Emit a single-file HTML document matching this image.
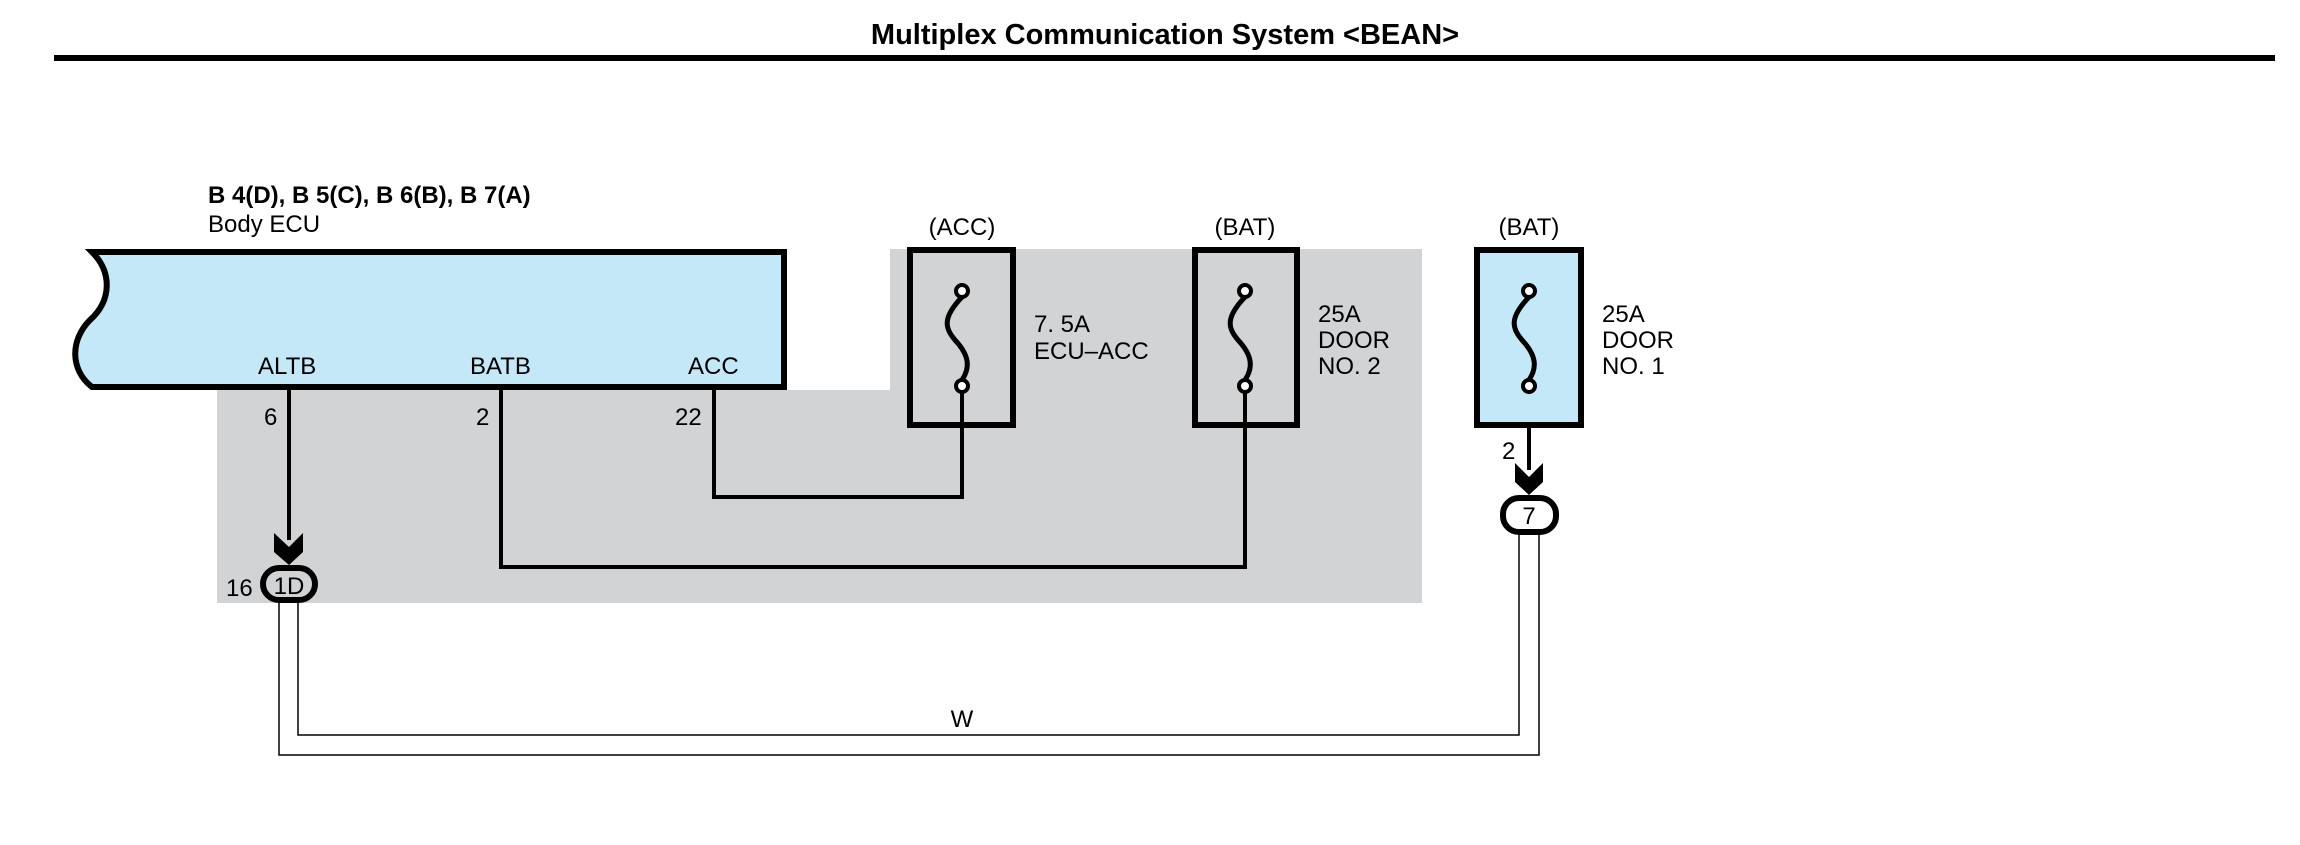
<!DOCTYPE html>
<html><head><meta charset="utf-8"><style>
html,body{margin:0;padding:0;background:#fff;}
svg{display:block;font-family:"Liberation Sans",Arial,sans-serif;}
</style></head><body>
<svg width="2300" height="845" viewBox="0 0 2300 845" xmlns="http://www.w3.org/2000/svg">
<text x="1165" y="44" font-size="29" font-weight="bold" text-anchor="middle">Multiplex Communication System &lt;BEAN&gt;</text>
<rect x="54" y="55" width="2221" height="6" fill="#000"/>
<!-- gray area -->
<path d="M217,390 H890 V249 H1422 V603 H217 Z" fill="#d1d3d4"/>
<!-- ECU -->
<text x="208" y="203" font-size="24" font-weight="bold">B 4(D), B 5(C), B 6(B), B 7(A)</text>
<text x="208" y="232" font-size="24">Body ECU</text>
<path d="M92,252 H784 V387 H92 C70,370 70,340 90,320 C112,300 112,272 92,252 Z" fill="#c5e8f8" stroke="#000" stroke-width="6"/>
<text x="258" y="374" font-size="24">ALTB</text>
<text x="470" y="374" font-size="24">BATB</text>
<text x="688" y="374" font-size="24">ACC</text>
<text x="264" y="425" font-size="24">6</text>
<text x="476" y="425" font-size="24">2</text>
<text x="675" y="425" font-size="24">22</text>
<g stroke="#000" stroke-width="4" fill="none">
<path d="M289,390 V540"/>
<path d="M501,390 V567 H1245 V386"/>
<path d="M714,390 V497 H962 V386"/>
<path d="M1529,386 V470"/>
</g>
<!-- arrows -->
<polygon points="274,533 289,547 303,533 303,552 289,565 274,552" fill="#000"/>
<polygon points="1515,463 1529,477 1543,463 1543,482 1529,495 1515,482" fill="#000"/>
<!-- connectors -->
<rect x="263" y="568" width="52" height="32" rx="16" fill="#d1d3d4" stroke="#000" stroke-width="6"/>
<text x="289" y="594" font-size="24" text-anchor="middle">1D</text>
<text x="226" y="596" font-size="24">16</text>
<rect x="1503" y="498" width="53" height="34" rx="16" fill="#fff" stroke="#000" stroke-width="6"/>
<text x="1529" y="524" font-size="24" text-anchor="middle">7</text>
<text x="1502" y="459" font-size="24">2</text>
<!-- W wires -->
<g stroke="#000" stroke-width="1.5" fill="none">
<path d="M279,603 V755 H1539 V534"/>
<path d="M298,603 V735 H1519 V534"/>
</g>
<text x="962" y="727" font-size="24" text-anchor="middle">W</text>
<!-- fuses -->
<g stroke="#000" stroke-width="6">
<rect x="910" y="250" width="103" height="175" fill="none"/>
<rect x="1195" y="250" width="102" height="175" fill="none"/>
<rect x="1477" y="250" width="104" height="175" fill="#c5e8f8"/>
</g>
<g stroke="#000" stroke-width="5" fill="none">
<path d="M962,297 C942,318 945,328 955,340 C970,356 970,368 962,380"/>
<path d="M1245,297 C1225,318 1228,328 1238,340 C1253,356 1253,368 1245,380"/>
<path d="M1529,297 C1509,318 1512,328 1522,340 C1537,356 1537,368 1529,380"/>
</g>
<g stroke="#000" stroke-width="4" fill="#fff">
<circle cx="962" cy="291" r="6"/><circle cx="962" cy="386" r="6"/>
<circle cx="1245" cy="291" r="6"/><circle cx="1245" cy="386" r="6"/>
<circle cx="1529" cy="291" r="6"/><circle cx="1529" cy="386" r="6"/>
</g>
<text x="962" y="235" font-size="24" text-anchor="middle">(ACC)</text>
<text x="1245" y="235" font-size="24" text-anchor="middle">(BAT)</text>
<text x="1529" y="235" font-size="24" text-anchor="middle">(BAT)</text>
<text x="1034" y="332" font-size="24">7. 5A</text>
<text x="1034" y="359" font-size="24">ECU–ACC</text>
<text x="1318" y="322" font-size="24">25A</text>
<text x="1318" y="348" font-size="24">DOOR</text>
<text x="1318" y="374" font-size="24">NO. 2</text>
<text x="1602" y="322" font-size="24">25A</text>
<text x="1602" y="348" font-size="24">DOOR</text>
<text x="1602" y="374" font-size="24">NO. 1</text>
</svg>
</body></html>
